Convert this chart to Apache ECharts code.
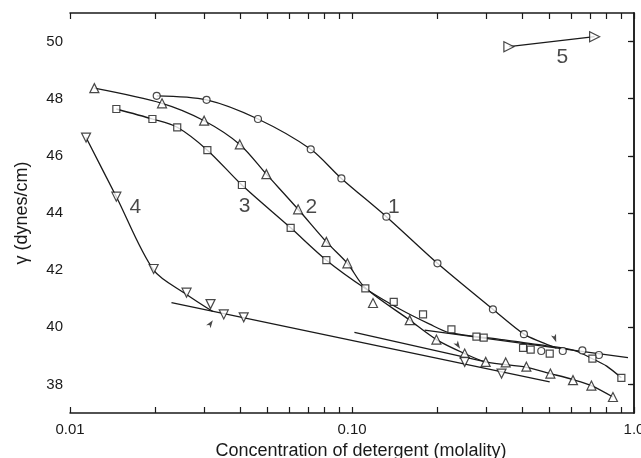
<!DOCTYPE html>
<html>
<head>
<meta charset="utf-8">
<script src="https://cdn.jsdelivr.net/npm/echarts@6.0.0/dist/echarts.min.js"></script>
<style>
  html, body { margin: 0; padding: 0; background: #fff; }
  #chart { width: 641px; height: 458px; }
</style>
</head>
<body>
<div id="chart"></div>
<script>
// values: [molality, gamma (dynes/cm)]
const curve1Points = [[0.0203, 48.10], [0.0305, 47.96], [0.0464, 47.29], [0.0714, 46.23], [0.0917, 45.21], [0.1324, 43.87], [0.2009, 42.24], [0.316, 40.63], [0.407, 39.76], [0.469, 39.17], [0.559, 39.17], [0.656, 39.19], [0.751, 39.03]];
const curve1Line = [[0.0203, 48.10], [0.0305, 47.96], [0.0464, 47.29], [0.0714, 46.23], [0.0917, 45.21], [0.1324, 43.87], [0.2009, 42.24], [0.316, 40.63], [0.407, 39.76], [0.469, 39.48], [0.531, 39.27]];

const curve2Points = [[0.0122, 48.37], [0.0212, 47.84], [0.0299, 47.23], [0.0400, 46.40], [0.0497, 45.36], [0.0644, 44.13], [0.0811, 42.99], [0.0963, 42.24], [0.1187, 40.85], [0.1602, 40.25], [0.1992, 39.57], [0.2509, 39.08], [0.2979, 38.79], [0.3508, 38.77], [0.4153, 38.62], [0.5052, 38.38], [0.6076, 38.15], [0.7063, 37.96], [0.842, 37.56]];
const curve2Line = [[0.0122, 48.37], [0.0212, 47.84], [0.0299, 47.23], [0.0400, 46.40], [0.0497, 45.36], [0.0644, 44.13], [0.0811, 42.99], [0.0963, 42.24], [0.1109, 41.40], [0.1602, 40.25], [0.1992, 39.57], [0.2509, 39.08], [0.2979, 38.79], [0.4153, 38.60], [0.5052, 38.38], [0.6076, 38.17], [0.7063, 37.96], [0.842, 37.56]];

const curve3Points = [[0.0146, 47.64], [0.0196, 47.29], [0.0240, 47.00], [0.0307, 46.20], [0.0407, 44.98], [0.0606, 43.48], [0.0811, 42.35], [0.1115, 41.36], [0.1406, 40.89], [0.1786, 40.45], [0.2252, 39.93], [0.2762, 39.67], [0.2931, 39.64], [0.4042, 39.28], [0.4302, 39.22], [0.5025, 39.08], [0.712, 38.90], [0.902, 38.23]];
const curve3Line = [[0.0146, 47.64], [0.0196, 47.29], [0.0240, 47.00], [0.0307, 46.20], [0.0407, 44.98], [0.0606, 43.48], [0.0811, 42.35], [0.1115, 41.36], [0.1476, 40.64], [0.1886, 40.11], [0.2221, 39.81], [0.334, 39.58], [0.5025, 39.34], [0.6163, 39.18], [0.712, 38.90], [0.80, 38.64], [0.902, 38.23]];

const curve4Points = [[0.0114, 46.64], [0.0146, 44.57], [0.0198, 42.04], [0.0259, 41.21], [0.0315, 40.81], [0.0351, 40.45], [0.0413, 40.35], [0.251, 38.79], [0.339, 38.38]];
const curve4Line = [[0.0114, 46.64], [0.0146, 44.57], [0.0198, 42.00], [0.0259, 41.15], [0.0321, 40.55]];

const curve5Points = [[0.360, 49.82], [0.725, 50.17]];

// straight tangent lines drawn on the plot
const tangent13 = [[0.181, 39.90], [0.952, 38.94]];
const tangent2 = [[0.102, 39.82], [0.2979, 38.79]];
const tangent4 = [[0.0229, 40.86], [0.5025, 38.09]];

// little arrows marking the breaks: [x, y, rotation]
const breakArrows = [[0.0321, 40.25, -34], [0.2418, 39.25, -146], [0.530, 39.48, -160]];

// curve numbers: [x, y, text]
const curveLabels = [[0.1406, 44.22, '1'], [0.0718, 44.20, '2'], [0.0416, 44.23, '3'], [0.01705, 44.22, '4'], [0.557, 49.44, '5']];

const xTickValues = [0.01, 0.1, 1];
const xTickLabels = ['0.01', '0.10', '1.0'];
const xMinorTicks = [0.02, 0.03, 0.04, 0.05, 0.06, 0.07, 0.08, 0.09, 0.2, 0.3, 0.4, 0.5, 0.6, 0.7, 0.8, 0.9];
const yTickValues = [38, 40, 42, 44, 46, 48, 50];

const ink = '#1a1a1a';
const font = 'Liberation Sans';

const chart = echarts.init(document.getElementById('chart'));

function lineSeries(data, smooth) {
  return {
    type: 'line', data: data, smooth: smooth ? 0.3 : false,
    showSymbol: false, symbol: 'none', silent: true,
    lineStyle: { color: ink, width: 1.3 }, z: 2
  };
}

function markerSeries(data, symbol, size, rotate) {
  return {
    type: 'scatter', data: data, symbol: symbol, symbolSize: size,
    symbolRotate: rotate || 0,
    itemStyle: { color: '#fff', borderColor: ink, borderWidth: 1.2 }, z: 3
  };
}

// log ticks (decades + 2..9) placed on plain value axes running log10 of the range
const logTickPositions = xTickValues.concat(xMinorTicks).map(function (v) { return Math.log10(v); });

function tickAxis(position) {
  return {
    type: 'value', min: -2, max: 0, position: position,
    axisLine: { show: false },
    axisTick: { show: true, inside: true, length: 6, customValues: logTickPositions, lineStyle: { color: ink, width: 1.2 } },
    axisLabel: { show: false },
    splitLine: { show: false }
  };
}

chart.setOption({
  animation: false,
  backgroundColor: '#fff',
  grid: { left: 70, right: 7, top: 13, bottom: 45, containLabel: false, outerBoundsMode: 'none' },
  xAxis: [
    {
      type: 'log', logBase: 10, min: 0.01, max: 1, position: 'bottom',
      axisLine: { show: true, lineStyle: { color: ink, width: 1.5 } },
      axisTick: { show: false },
      splitLine: { show: false },
      name: 'Concentration of detergent (molality)',
      nameLocation: 'middle', nameGap: 27,
      nameTextStyle: { fontFamily: font, fontSize: 18, letterSpacing: 1.5, color: ink, padding: [0, 0, 0, 18] },
      axisLabel: {
        show: true, customValues: xTickValues, margin: 9,
        fontFamily: font, fontSize: 15, color: ink,
        formatter: function (v) {
          let best = 0;
          xTickValues.forEach(function (t, i) {
            if (Math.abs(Math.log10(t) - Math.log10(v)) < Math.abs(Math.log10(xTickValues[best]) - Math.log10(v))) best = i;
          });
          return xTickLabels[best];
        }
      }
    },
    {
      type: 'log', logBase: 10, min: 0.01, max: 1, position: 'top',
      axisLine: { show: true, lineStyle: { color: ink, width: 1.5 } },
      axisTick: { show: false }, axisLabel: { show: false }, splitLine: { show: false }
    },
    tickAxis('bottom'),
    tickAxis('top')
  ],
  yAxis: [
    {
      type: 'value', min: 37, max: 51, position: 'left',
      name: 'γ (dynes/cm)', nameLocation: 'middle', nameGap: 39,
      nameTextStyle: { fontFamily: font, fontSize: 18, letterSpacing: 2, color: ink },
      axisLine: { show: true, lineStyle: { color: ink, width: 1.5 } },
      axisTick: { show: true, inside: false, length: 4, customValues: yTickValues, lineStyle: { color: ink, width: 1.2 } },
      axisLabel: { show: true, customValues: yTickValues, margin: 7, fontFamily: font, fontSize: 15, color: ink },
      splitLine: { show: false }
    },
    {
      type: 'value', min: 37, max: 51, position: 'right',
      axisLine: { show: true, lineStyle: { color: ink, width: 1.5 } },
      axisTick: { show: true, inside: true, length: 6, customValues: yTickValues, lineStyle: { color: ink, width: 1.2 } },
      axisLabel: { show: false },
      splitLine: { show: false }
    }
  ],
  series: [
    lineSeries(curve1Line, true),
    lineSeries(curve2Line, true),
    lineSeries(curve3Line, true),
    lineSeries(curve4Line, true),
    lineSeries(curve5Points, false),
    lineSeries(tangent13, false),
    lineSeries(tangent2, false),
    lineSeries(tangent4, false),
    markerSeries(curve1Points, 'circle', 7),
    markerSeries(curve2Points, 'triangle', 9),
    markerSeries(curve3Points, 'rect', 7),
    markerSeries(curve4Points, 'triangle', 9, 180),
    markerSeries(curve5Points, 'triangle', 10, -90),
    {
      type: 'scatter', symbol: 'arrow', symbolSize: [4, 8],
      data: breakArrows.map(function (a) { return { value: [a[0], a[1]], symbolRotate: a[2] }; }),
      itemStyle: { color: ink }, z: 4
    },
    {
      type: 'scatter', symbolSize: 0, silent: true,
      data: curveLabels.map(function (l) { return { value: [l[0], l[1]], name: l[2] }; }),
      label: {
        show: true, position: 'inside', formatter: '{b}',
        fontFamily: font, fontSize: 21, color: ink
      },
      z: 5
    }
  ]
});
</script>
</body>
</html>
